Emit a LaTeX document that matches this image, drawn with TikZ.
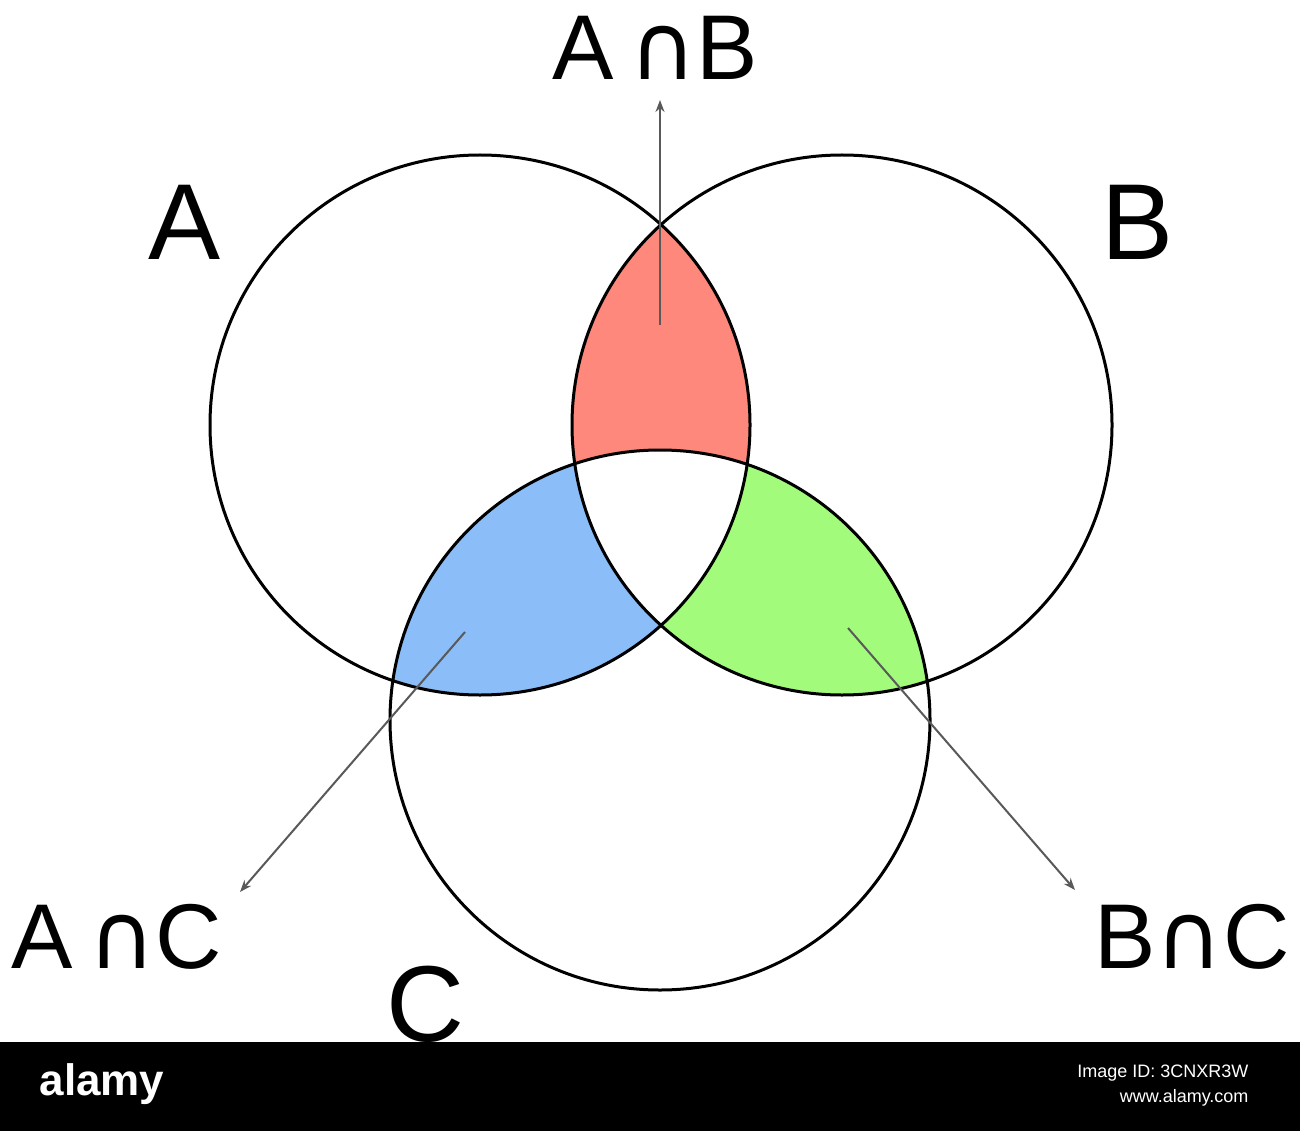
\documentclass[tikz,border=0pt]{standalone}
\usepackage{fontspec}
\setmainfont{Liberation Sans}
\newfontfamily\djv{DejaVu Sans}
\usetikzlibrary{arrows.meta}
\definecolor{redr}{HTML}{FF887C}
\definecolor{bluer}{HTML}{8BBDF9}
\definecolor{greenr}{HTML}{A3FB7C}
\tikzset{
  circ/.style={draw=black,line width=3pt},
  ptr/.style={draw=black!65,line width=2pt,-{Stealth[length=12pt,width=9pt]}},
  big/.style={font=\fontsize{108}{110}\selectfont},
  mid/.style={font=\fontsize{92}{94}\selectfont}
}
\newcommand{\capx}{{\djv\char"2229}}
\begin{document}
\begin{tikzpicture}[x=1pt,y=-1pt]
\useasboundingbox (0,0) rectangle (1300,1131);
\fill[white] (0,0) rectangle (1300,1131);
\def\CA{(480,425) circle (270)}
\def\CB{(842,425) circle (270)}
\def\CC{(660,720) circle (270)}
\begin{scope}\clip \CA; \fill[redr] \CB; \fill[bluer] \CC; \end{scope}
\begin{scope}\clip \CB; \fill[greenr] \CC; \end{scope}
\begin{scope}\clip \CA; \clip \CB; \fill[white] \CC; \end{scope}
\draw[circ] \CA; \draw[circ] \CB; \draw[circ] \CC;
\coordinate (ab0) at (660,325); \coordinate (ab1) at (660,100);
\coordinate (ac0) at (465,632); \coordinate (ac1) at (240,892);
\coordinate (bc0) at (848,628); \coordinate (bc1) at (1075,890);
\draw[ptr] (ab0) -- (ab1);
\draw[ptr] (ac0) -- (ac1);
\draw[ptr] (bc0) -- (bc1);
\node[big] (la) at (185,222) {A};
\node[big] (lb) at (1138,222) {B};
\node[big] (lc) at (425,1004) {C};
\node[mid] (lab) at (655,48) {A\,\capx B};
\node[mid] (lac) at (117,937) {A\,\capx C};
\node[mid] (lbc) at (1192,937) {B\capx C};
\fill[black] (0,1042) rectangle (1300,1131);
\node[white,font=\bfseries\fontsize{44}{46}\selectfont] (wm) at (102,1084) {alamy};
\node[white,font=\fontsize{18}{20}\selectfont,anchor=east] (wid) at (1252,1073) {Image ID: 3CNXR3W};
\node[white,font=\fontsize{18}{20}\selectfont,anchor=east] (wurl) at (1252,1098) {www.alamy.com};
\end{tikzpicture}
\end{document}
